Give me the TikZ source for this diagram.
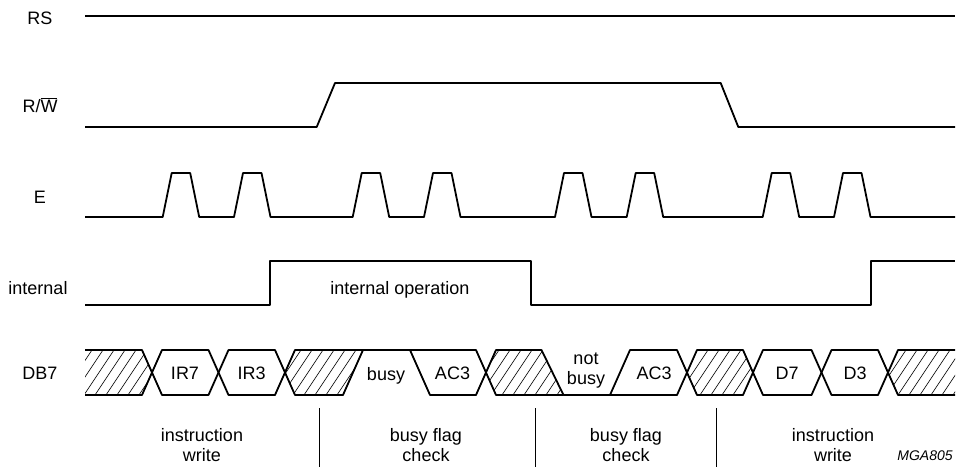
\documentclass[tikz,border=0pt]{standalone}
\usepackage{fontspec}
\setmainfont{Liberation Sans}
\newcommand\hatchreg[1]{\begin{scope}\clip #1;\foreach \x in {40,51,...,960} \draw[hat] (\x,395) -- ++(30,-45);\end{scope}}
\begin{document}
\begin{tikzpicture}[x=1pt,y=-1pt,
  sig/.style={line width=1.8pt, line join=round},
  hat/.style={line width=0.6pt},
  divline/.style={line width=1pt},
  lbl/.style={font=\fontsize{18}{20}\selectfont, inner sep=0pt, anchor=base},
  sec/.style={font=\fontsize{18}{20}\selectfont, inner sep=0pt, anchor=base, align=center},
]
\useasboundingbox (0,0) rectangle (958,467);

% signal names
\node[lbl] (lRS) at (40,24) {RS};
\node[lbl] (lRW) at (40,112) {R/$\overline{\hbox{W}}$};
\node[lbl] (lE) at (40,203) {E};
\node[lbl] (lint) at (38,294) {internal};
\node[lbl] (lDB) at (40,379) {DB7};

% RS
\draw[sig] (85,15.7) -- (955,15.7);
% R/W
\draw[sig] (85,127) -- (316.7,127) -- (335,83) -- (720.7,83) -- (738.3,127) -- (955,127);
% E
\draw[sig] (85,217)
  \foreach \s in {162.7,234,352.7,424,555,626.7,762.7,834} { -- (\s,217) -- ++(9,-44) -- ++(18.5,0) -- ++(9,44) }
  -- (955,217);
% internal
\draw[sig] (85,305) -- (270,305) -- (270,261) -- (531,261) -- (531,305) -- (870.7,305) -- (870.7,261) -- (955,261);
\node[lbl] (iop) at (400,294) {internal operation};

% DB7 hatched areas
\hatchreg{(85,350) -- (142,350) -- (152,372.5) -- (142,395) -- (85,395) -- cycle}
\hatchreg{(285,372.5) -- (295,350) -- (363,350) -- (343,395) -- (295,395) -- cycle}
\hatchreg{(486,372.5) -- (496,350) -- (541.5,350) -- (563.5,395) -- (496,395) -- cycle}
\hatchreg{(687,372.5) -- (697,350) -- (743,350) -- (753,372.5) -- (743,395) -- (697,395) -- cycle}
\hatchreg{(888,372.5) -- (898,350) -- (955,350) -- (955,395) -- (898,395) -- cycle}

% DB7 outlines
\draw[sig] (85,350) -- (142,350) -- (152,372.5) -- (142,395) -- (85,395);
\draw[sig] (152,372.5) -- (162,350) -- (208.5,350) -- (218.5,372.5) -- (208.5,395) -- (162,395) -- cycle;
\draw[sig] (218.5,372.5) -- (228.5,350) -- (275,350) -- (285,372.5) -- (275,395) -- (228.5,395) -- cycle;
\draw[sig] (285,372.5) -- (295,350) -- (476,350) -- (486,372.5) -- (476,395) -- (430,395) -- (410,350);
\draw[sig] (285,372.5) -- (295,395) -- (343,395) -- (363,350);
\draw[sig] (486,372.5) -- (496,350) -- (541.5,350) -- (563.5,395) -- (677,395) -- (687,372.5) -- (677,350) -- (630,350) -- (610,395);
\draw[sig] (486,372.5) -- (496,395) -- (563.5,395);
\draw[sig] (687,372.5) -- (697,350) -- (743,350) -- (753,372.5) -- (743,395) -- (697,395) -- cycle;
\draw[sig] (753,372.5) -- (763,350) -- (811.5,350) -- (821.5,372.5) -- (811.5,395) -- (763,395) -- cycle;
\draw[sig] (821.5,372.5) -- (831.5,350) -- (878,350) -- (888,372.5) -- (878,395) -- (831.5,395) -- cycle;
\draw[sig] (955,350) -- (898,350) -- (888,372.5) -- (898,395) -- (955,395);

% DB7 values
\node[lbl] (vIR7) at (185,379) {IR7};
\node[lbl] (vIR3) at (251.7,379) {IR3};
\node[lbl] (vbusy) at (386,380) {busy};
\node[lbl] (vAC3a) at (452.5,379) {AC3};
\node[sec] (vnb) at (586,384) {not\\busy};
\node[lbl] (vAC3b) at (654,379) {AC3};
\node[lbl] (vD7) at (787,379) {D7};
\node[lbl] (vD3) at (855,379) {D3};

% section dividers
\draw[divline] (319,408) -- (319,467);
\draw[divline] (535.5,408) -- (535.5,467);
\draw[divline] (716,408) -- (716,467);

% section labels
\node[sec] (s1) at (202,461) {instruction\\write};
\node[sec] (s2) at (426,461) {busy flag\\check};
\node[sec] (s3) at (626,461) {busy flag\\check};
\node[sec] (s4) at (833,461) {instruction\\write};
\node[font=\fontsize{14}{16}\selectfont\itshape, inner sep=0pt, anchor=base] (mga) at (925,460) {MGA805};
\end{tikzpicture}
\end{document}
